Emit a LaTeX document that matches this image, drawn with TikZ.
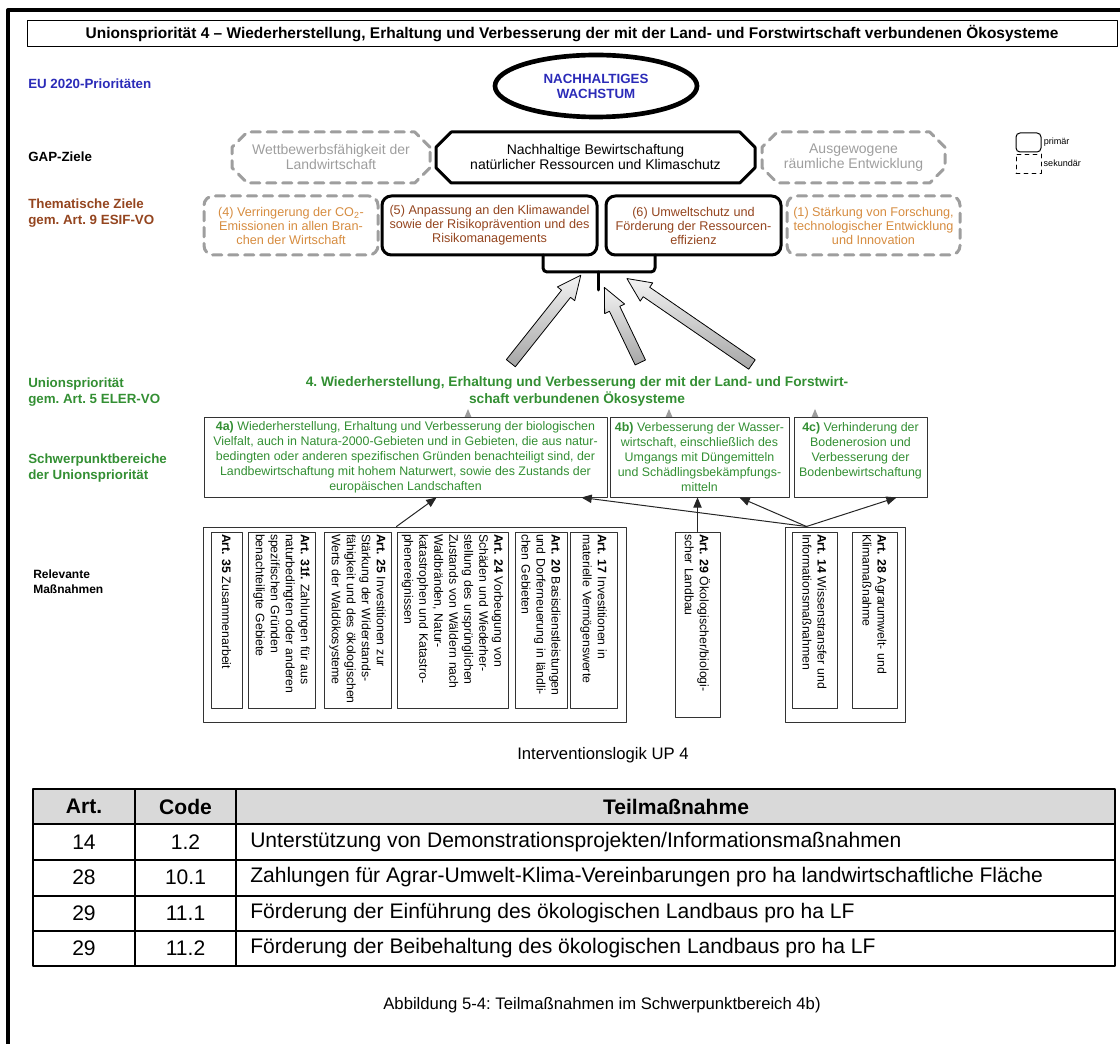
\documentclass[tikz,border=0pt]{standalone}
\usepackage{fontspec}
\setmainfont{Liberation Sans}
\usetikzlibrary{arrows,positioning,shapes.misc,shapes.geometric,shapes.arrows}
\definecolor{udblue}{rgb}{0.17,0.17,0.72}
\definecolor{udbrown}{rgb}{0.58,0.27,0.12}
\definecolor{udorange}{rgb}{0.84,0.55,0.25}
\definecolor{udgreen}{rgb}{0.2,0.56,0.2}
\definecolor{udgray}{rgb}{0.62,0.62,0.62}
\definecolor{udhead}{rgb}{0.85,0.85,0.85}
\newcommand{\udsize}[2]{\fontsize{#1}{#2}\selectfont}
\frenchspacing
\begin{document}
\begin{tikzpicture}[line cap=round,line join=round,>=triangle 45,x=0.75pt,y=-0.75pt,
  rowlabel/.style={anchor=west,align=left,inner sep=0pt,font=\bfseries\udsize{10}{12}},
  secondary/.style={draw=udgray,text=udgray,dash pattern=on 7pt off 5pt},
  gapbox/.style={chamfered rectangle,chamfered rectangle xsep=8pt,draw,line width=2.25pt,minimum height=38.25pt,inner sep=1pt,align=center,font=\udsize{10.5}{11.25}},
  tzbox/.style={draw,rounded corners=7pt,line width=2.25pt,minimum height=44.25pt,inner sep=1pt,align=center,font=\udsize{9.5}{10.5}},
  spbox/.style={draw=black!80,fill=white,line width=0.75pt,minimum height=59.25pt,inner sep=1.5pt,align=center,text=udgreen,font=\udsize{9.3}{11.25}},
  artbox/.style={draw=black!80,line width=0.75pt,rotate=-90,minimum width=132pt,text width=129pt,inner xsep=1.5pt,inner ysep=1pt,align=left,font=\udsize{9.2}{11.25}},
  grpbox/.style={draw=black!80,line width=0.75pt,minimum height=146.25pt},
  bigarrow/.style={single arrow,draw=black,line width=0.6pt,top color=gray!10,bottom color=gray!70,inner xsep=0pt,inner ysep=4pt,single arrow head extend=4pt,single arrow tip angle=50},
  thinarrow/.style={->,draw=black!85,line width=0.75pt},
  stub/.style={->,draw=udgray,line width=1.2pt},
  cell/.style={inner sep=0pt,font=\udsize{15.8}{18}}]
\useasboundingbox (0,0) rectangle (1120,1044);
\draw [line width=3pt,line cap=butt] (8,1044) -- (8,10) -- (1120,10);
\node[draw,line width=0.75pt,minimum width=817.5pt,minimum height=19.5pt,inner sep=0pt,font=\bfseries\udsize{11.6}{13}] (title) at (572,34) {Unionspriorität 4 -- Wiederherstellung, Erhaltung und Verbesserung der mit der Land- und Forstwirtschaft verbundenen Ökosysteme};
\node[rowlabel,text=udblue] (lab eu) at (28,84) {EU 2020-Prioritäten};
\node[rowlabel] (lab gap) at (28,157) {GAP-Ziele};
\node[rowlabel,text=udbrown] (lab tz) at (28,213) {Thematische Ziele\\gem. Art. 9 ESIF-VO};
\node[rowlabel,text=udgreen] (lab up) at (28,392.5) {Unionspriorität\\gem. Art. 5 ELER-VO};
\node[rowlabel,text=udgreen] (lab sp) at (28,468) {Schwerpunktbereiche\\der Unionspriorität};
\node[rowlabel,font=\bfseries\udsize{9}{11}] (lab rm) at (33,582) {Relevante\\Maßnahmen};
\node[ellipse,draw,line width=3.5pt,minimum width=151.5pt,minimum height=46.5pt,inner sep=0pt,align=center,text=udblue,font=\bfseries\udsize{10}{11.25}] (growth) at (596,86) {NACHHALTIGES\\WACHSTUM};
\node[gapbox,secondary,minimum width=148.5pt] (gap1) at (331,157.5) {Wettbewerbsfähigkeit der\\Landwirtschaft};
\node[gapbox,minimum width=239.25pt] (gap2) at (595.5,157.5) {Nachhaltige Bewirtschaftung\\natürlicher Ressourcen und Klimaschutz};
\node[gapbox,secondary,minimum width=137.25pt] (gap3) at (853.5,157.5) {Ausgewogene\\räumliche Entwicklung};
\node[tzbox,secondary,text=udorange,minimum width=130.5pt] (tz4) at (291,225.5) {(4) Verringerung der CO\textsubscript{2}-\\Emissionen in allen Bran-\\chen der Wirtschaft};
\node[tzbox,text=udbrown,minimum width=161.25pt] (tz5) at (489.5,225.5) {(5) Anpassung an den Klimawandel\\sowie der Risikoprävention und des\\Risikomanagements};
\node[tzbox,text=udbrown,minimum width=131.25pt] (tz6) at (693.5,225.5) {(6) Umweltschutz und\\Förderung der Ressourcen-\\effizienz};
\node[tzbox,secondary,text=udorange,minimum width=129.75pt] (tz1) at (873.5,225.5) {(1) Stärkung von Forschung,\\technologischer Entwicklung\\und Innovation};
\node[draw,rounded corners=3pt,line width=0.75pt,minimum width=18.75pt,minimum height=14.25pt] (leg prim) at (1028.5,142.5) {};
\node[right=1.5pt of leg prim,inner sep=0pt,font=\udsize{6.8}{8}] (leg prim txt) {primär};
\node[draw,dashed,line width=0.6pt,minimum width=18.75pt,minimum height=14.25pt] (leg sec) at (1028.5,163.5) {};
\node[right=1.5pt of leg sec,inner sep=0pt,font=\udsize{6.8}{8}] (leg sec txt) {sekundär};
\coordinate (brace l) at (543,255);
\coordinate (brace r) at (655,255);
\coordinate (brace m) at (598,290);
\draw [line width=2.25pt,rounded corners=3pt] (brace l) -- (543,272) -- (655,272) -- (brace r);
\draw [line width=2.25pt] (598,272) -- (brace m);
\node[text=udgreen,align=center,font=\bfseries\udsize{10.3}{12.75}] (up4) at (577,391.5) {4. Wiederherstellung, Erhaltung und Verbesserung der mit der Land- und Forstwirt-\\schaft verbundenen Ökosysteme};
\node[bigarrow,minimum height=84.3pt,rotate=51.5] (arrow a) at (542,324) {};
\node[bigarrow,minimum height=62.4pt,rotate=115.6] (arrow b) at (625,330.5) {};
\node[bigarrow,minimum height=113.8pt,rotate=145.5] (arrow c) at (694.5,325) {};
\draw [stub] (468,419) -- (468,409);
\draw [stub] (669,419) -- (669,409);
\draw [stub] (815,419) -- (815,409);
\node[spbox,minimum width=302.25pt] (sp4a) at (405.5,457.5) {\textbf{4a)} Wiederherstellung, Erhaltung und Verbesserung der biologischen\\Vielfalt, auch in Natura-2000-Gebieten und in Gebieten, die aus natur-\\bedingten oder anderen spezifischen Gründen benachteiligt sind, der\\Landbewirtschaftung mit hohem Naturwert, sowie des Zustands der\\europäischen Landschaften};
\node[spbox,minimum width=134.25pt] (sp4b) at (699.5,457.5) {\textbf{4b)} Verbesserung der Wasser-\\wirtschaft, einschließlich des\\Umgangs mit Düngemitteln\\und Schädlingsbekämpfungs-\\mitteln};
\node[spbox,minimum width=99.75pt] (sp4c) at (860.5,457.5) {\textbf{4c)} Verhinderung der\\Bodenerosion und\\Verbesserung der\\Bodenbewirtschaftung\\\mbox{}};
\node[grpbox,minimum width=317.25pt] (grp1) at (414.5,624.5) {};
\node[grpbox,minimum width=90pt] (grp3) at (845,624.5) {};
\node[artbox,minimum height=23.25pt] (art35) at (226.5,620) {\textbf{Art. 35} Zusammenarbeit};
\node[artbox,minimum height=50.25pt] (art31) at (281.5,620) {\textbf{Art. 31f.} Zahlungen für aus\\naturbedingten oder anderen\\spezifischen Gründen\\benachteiligte Gebiete};
\node[artbox,minimum height=50.25pt] (art25) at (357.5,620) {\textbf{Art. 25} Investitionen zur\\Stärkung der Widerstands-\\fähigkeit und des ökologischen\\Werts der Waldökosysteme};
\node[artbox,minimum height=83.25pt] (art24) at (452.5,620) {\textbf{Art. 24} Vorbeugung von\\Schäden und Wiederher-\\stellung des ursprünglichen\\Zustands von Wäldern nach\\Waldbränden, Natur-\\katastrophen und Katastro-\\phenereignissen};
\node[artbox,minimum height=39pt] (art20) at (541,620) {\textbf{Art. 20} Basisdienstleistungen\\und Dorferneuerung in ländli-\\chen Gebieten};
\node[artbox,minimum height=35.25pt] (art17) at (593.5,620) {\textbf{Art. 17} Investitionen in\\materielle Vermögenswerte};
\node[artbox,minimum height=33.75pt,minimum width=138.75pt,text width=135.75pt] (art29) at (697.5,624.5) {\textbf{Art. 29} Ökologischer/biologi-\\scher Landbau};
\node[artbox,minimum height=33.75pt] (art14) at (814.5,620) {\textbf{Art. 14} Wissenstransfer und\\Informationsmaßnahmen};
\node[artbox,minimum height=33.75pt] (art28) at (874.5,620) {\textbf{Art. 28} Agrarumwelt- und\\Klimamaßnahme};
\draw [thinarrow] ([xshift=145.5pt]grp1.north west) -- ([xshift=174.75pt]sp4a.south west);
\draw [thinarrow] (art29.west) -- (art29.west |- sp4b.south);
\coordinate (grp3 top) at ([xshift=16.5pt]grp3.north west);
\draw [thinarrow] (grp3 top) -- ([xshift=283.5pt]sp4a.south west);
\draw [thinarrow] (grp3 top) -- ([xshift=97.5pt]sp4b.south west);
\draw [thinarrow] (grp3 top) -- ([xshift=77.25pt]sp4c.south west);
\node[font=\udsize{12.5}{14}] (cap up) at (603,755) {Interventionslogik UP 4};
\fill [udhead] (33,789) rectangle (1115,824);
\draw [line width=1pt] (33,789) rectangle (1115,966);
\foreach \y in {824,860,896,931} \draw [line width=1pt] (33,\y) -- (1115,\y);
\foreach \x in {135,236} \draw [line width=1pt] (\x,789) -- (\x,966);
\node[cell,font=\bfseries\udsize{15.8}{18}] (th art) at (84,806.5) {Art.};
\node[cell,font=\bfseries\udsize{15.8}{18}] (th code) at (185.5,806.5) {Code};
\node[cell,font=\bfseries\udsize{15.8}{18}] (th part) at (676,806.5) {Teilmaßnahme};
\foreach \a/\c/\t [count=\i] in {14/1.2/{Unterstützung von Demonstrationsprojekten/Informationsmaßnahmen},28/10.1/{Zahlungen für Agrar-Umwelt-Klima-Vereinbarungen pro ha landwirtschaftliche Fläche},29/11.1/{Förderung der Einführung des ökologischen Landbaus pro ha LF},29/11.2/{Förderung der Beibehaltung des ökologischen Landbaus pro ha LF}} {
  \node[cell] (td art \i) at (84,806.5+35.5*\i) {\a};
  \node[cell] (td code \i) at (185.5,806.5+35.5*\i) {\c};
  \node[cell,anchor=west] (td part \i) at (250,806.5+35.5*\i) {\t};
}
\node[font=\udsize{12.5}{14}] (cap tab) at (602,1005) {Abbildung 5-4: Teilmaßnahmen im Schwerpunktbereich 4b)};
\end{tikzpicture}
\end{document}
